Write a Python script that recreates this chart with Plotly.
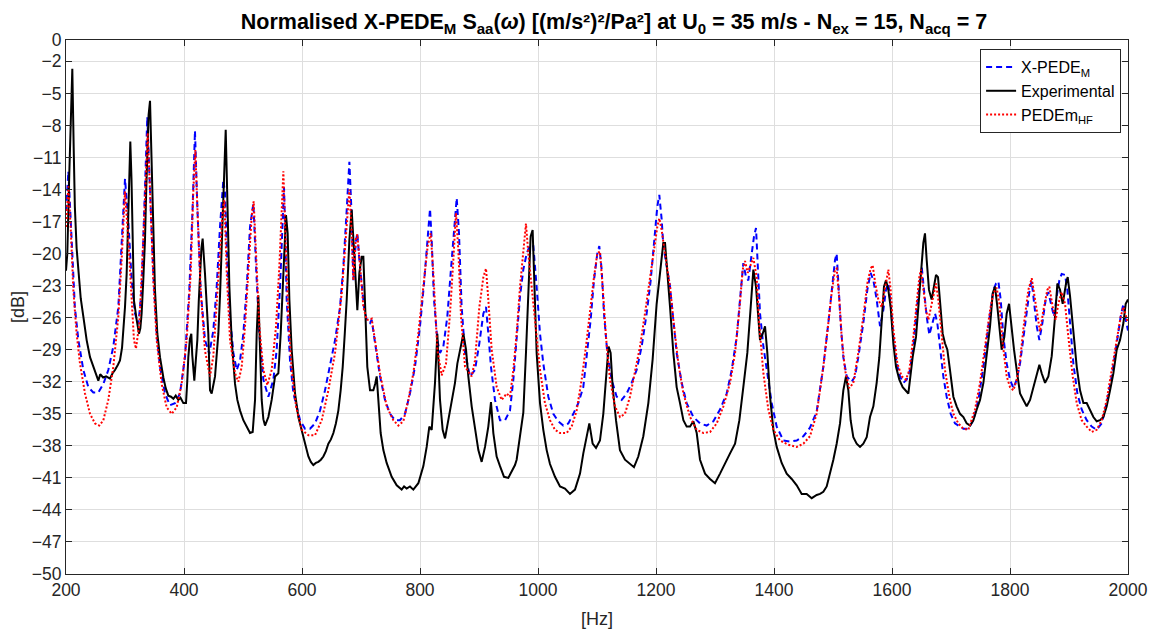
import plotly.graph_objects as go

# ---------------- data ----------------
freq_exp = [200, 202.2, 205.6, 208.4, 210.7, 213, 215, 218, 221, 225, 229.4, 235, 240.7, 246, 250, 254.8, 258, 263, 268,
            274.5, 279, 283, 288, 291.5, 295, 297, 300, 302.8, 305.6, 307.5, 309, 311, 313, 315.2, 319.8, 323.7, 326,
            328.2, 331, 333.9, 336, 337.8, 340, 342.4, 344.5, 346.9, 350.8, 354.8, 359.3, 365, 369, 373.4, 378, 382,
            386, 390.4, 394, 398.9, 403.4, 405.5, 407.3, 410, 412.4, 414, 417.5, 420, 422.6, 425, 427.1, 429.5, 431.6,
            433.5, 435.6, 438.5, 441.2, 444.1, 446.9, 452.6, 458.2, 461, 463.9, 467.8, 470.7, 473.5, 476.9, 480.8,
            486.5, 490.4, 495, 500.6, 506.3, 511.9, 516.4, 518.5, 520.4, 523.2, 526, 528.9, 531.7, 534.5, 537.3, 543,
            548.6, 554.3, 559.9, 563.9, 568.4, 572.9, 575.7, 578.6, 582.5, 588.2, 593.8, 602.3, 606.5, 610.8, 615,
            619.2, 623.5, 627.7, 632, 636.2, 640.5, 644.7, 649, 653.2, 657.4, 661.6, 665.5, 669, 672.5, 675.8, 680.3,
            684.2, 688.2, 691.6, 693.8, 697.2, 701.2, 704, 707.4, 710.7, 715.3, 720.9, 724, 726.6, 729.4, 733.3, 737.9,
            743.5, 752, 760.5, 768.9, 773, 777.4, 783, 788.7, 797.2, 805.7, 811.3, 815.8, 819.8, 825.4, 829.4, 833.9,
            838.4, 842.4, 848, 853.7, 859.3, 863.3, 867.8, 873.5, 878, 881.9, 887.6, 893.2, 898.9, 904.5, 910.2, 915.8,
            920.3, 924.3, 929.9, 935.6, 942.4, 949.7, 955.4, 961, 963.8, 969.5, 975.1, 979.6, 983.6, 987.5, 990.9,
            993.7, 997.7, 1003.4, 1009, 1014.7, 1020.3, 1028.8, 1037.3, 1045.7, 1054.2, 1062.7, 1071.2, 1076.8, 1082.5,
            1087, 1092.6, 1098.3, 1105, 1110.7, 1116.4, 1119.7, 1123.1, 1126.5, 1132.2, 1138.9, 1147.4, 1155.9, 1162.7,
            1170, 1178.5, 1187, 1194.3, 1201.1, 1206.8, 1212.4, 1215.3, 1219.2, 1223.8, 1229.4, 1235, 1240.7, 1246.4,
            1252, 1257.7, 1263.3, 1269, 1274.6, 1283.1, 1291.6, 1300, 1308.5, 1317, 1325.5, 1334, 1341.3, 1348, 1354.8,
            1360.5, 1365, 1369.5, 1373.5, 1376.3, 1380.8, 1384.8, 1388.7, 1393.3, 1398.9, 1404.6, 1413, 1421.5, 1430,
            1438.5, 1446.9, 1455.4, 1463.9, 1472.4, 1478, 1483.6, 1489.3, 1494.9, 1500.6, 1506.2, 1511.9, 1517.5, 1522,
            1526, 1529.9, 1534.5, 1540.1, 1545.8, 1551.4, 1557.1, 1562.7, 1568.4, 1574, 1578.5, 1582.5, 1586.4, 1589.8,
            1593.8, 1597.7, 1602.3, 1606.8, 1612.4, 1618.1, 1623.7, 1627.7, 1630.5, 1635, 1640.7, 1644.6, 1648.6,
            1653.1, 1655.9, 1658.8, 1662.7, 1667.2, 1671.2, 1674.6, 1678, 1681.4, 1685.9, 1689.8, 1693.8, 1698.3, 1704,
            1709.6, 1715.3, 1721, 1726.6, 1732.3, 1737.9, 1743.6, 1749.2, 1754.9, 1760.5, 1766.2, 1770.7, 1774.6,
            1778.6, 1783.1, 1785.9, 1790.4, 1794.4, 1798.4, 1802.9, 1806.8, 1811.4, 1817, 1822.7, 1828.3, 1834, 1839.6,
            1845.3, 1849.8, 1853.7, 1859.4, 1865, 1870.7, 1876.3, 1880.3, 1884.8, 1889.3, 1895, 1897.8, 1901.8, 1907.4,
            1913.1, 1918.7, 1924.4, 1930, 1935.7, 1941.3, 1947, 1952.6, 1958.3, 1963.9, 1969.6, 1975.2, 1980.9, 1986.5,
            1992.2, 1996.1, 2000]
db_exp = [-21.6, -20, -12.5, -6.2, -2.7, -10, -15.6, -19.5, -21.9, -24.2, -25.9, -28.1, -29.7, -30.5, -31, -31.9, -31.3,
          -31.6, -31.5, -31.7, -31.2, -30.9, -30.4, -30, -28.8, -27.5, -25, -21.9, -15.6, -11.5, -9.5, -13, -18.7,
          -24.4, -26.2, -27.5, -27, -25.6, -22.5, -18.7, -14, -9.4, -7, -5.7, -10, -15.6, -23.4, -27.5, -29.7, -31.6,
          -32.6, -33.3, -33.4, -33.6, -33.3, -33.7, -33.5, -34, -34, -32, -29.7, -28, -27.5, -29.5, -31.9, -30, -28.1,
          -24.5, -21.9, -19.5, -18.6, -20, -21.9, -24.8, -27.5, -32.8, -33.1, -31.5, -27.5, -24, -19.7, -13.4, -8.4,
          -15, -23.1, -28.1, -32.2, -33.7, -34.7, -35.6, -36.2, -36.8, -36.7, -35.5, -33.7, -27.5, -23.9, -29, -33.7,
          -35.5, -36.1, -35.3, -33.7, -31.5, -31.2, -27.5, -21.2, -16.4, -18.1, -24.3, -29, -33.1, -35.3, -37.2, -38.2,
          -39, -39.5, -39.8, -39.6, -39.5, -39.3, -39, -38.5, -37.8, -37.4, -36.8, -35.9, -34.7, -32.8, -30.6, -27.5,
          -24.3, -18.7, -15.9, -19.7, -23.7, -25.3, -21.8, -20.3, -20.3, -25.9, -30.6, -32.8, -32.8, -32.2, -31.5,
          -33.7, -36.8, -38.4, -39.6, -40.9, -41.7, -42.1, -41.8, -42, -41.8, -42.1, -41.5, -39.9, -38.1, -36.2, -36.5,
          -32.1, -27.5, -33.7, -36.5, -37.3, -35.6, -33.7, -32.1, -30.3, -29, -27.5, -29, -31.5, -34.3, -36.5, -38.4,
          -39.5, -38.1, -36.2, -33.9, -36.8, -39, -39.9, -40.9, -41, -40.4, -39.8, -39.3, -37.1, -34.9, -29.3, -23.1,
          -18.4, -17.8, -23.1, -29.3, -34, -36.5, -38.4, -39.7, -40.9, -41.8, -42, -42.5, -42.1, -40.6, -38.7, -37.2,
          -35.9, -37.8, -38.2, -37.5, -35, -30.9, -28.7, -29.3, -32.5, -35.6, -38.4, -39.3, -39.7, -40, -39, -37.1,
          -34, -29.9, -24.7, -21.5, -19, -19, -21.5, -25, -29.3, -32.5, -34, -35.6, -36.2, -36.2, -35.7, -36.8, -39.3,
          -40.6, -41.1, -41.5, -40.6, -39.6, -38.7, -37.8, -35.6, -32.5, -29.3, -25, -21.5, -23.1, -25.6, -28.1,
          -27.5, -26.8, -29.3, -33.4, -36.5, -38.1, -39.6, -40.6, -41.1, -41.7, -42.5, -42.5, -42.9, -42.6, -42.5,
          -42.3, -41.8, -40.6, -39.3, -37.8, -35.9, -32.8, -31.5, -32.8, -35.6, -37.2, -37.8, -38.1, -37.8, -37.2,
          -35.3, -34.3, -32.1, -29.7, -25.9, -23.1, -22.5, -23.4, -25, -28.4, -30.6, -31.8, -32.5, -32.8, -33.1,
          -31.8, -29.7, -27.8, -25.3, -22.2, -19, -18.1, -20.6, -23.4, -24.3, -22.8, -22, -22.2, -24.3, -27.5, -28.4,
          -29, -30.9, -33.4, -34.3, -35, -35.3, -35.9, -36.1, -35.6, -34.6, -33.7, -32.1, -29.6, -26.8, -23.7, -23.1,
          -25, -27.8, -29, -27.8, -25.6, -24.7, -27.2, -29, -30.9, -33.1, -33.7, -34.3, -33.7, -32.5, -31.5, -30.4,
          -31.2, -32.1, -31.5, -29.6, -25.9, -22.8, -23.4, -24.7, -22.8, -22.2, -24, -27.5, -30.6, -32.8, -34, -34,
          -34.6, -35.3, -35.7, -35.6, -35.3, -34.3, -32.8, -31.2, -29, -28.1, -26.5, -24.7, -24.3]

freq_xpede = [200, 204, 209.6, 215, 221, 229.4, 237.8, 246.3, 254.8, 263.3, 271.7, 280.2, 288.7, 294.3, 300, 305.6,
              311.3, 316.9, 322.6, 328.2, 333.9, 337.8, 342.4, 348, 353.7, 359.3, 367.8, 376.2, 384.7, 393.2, 401.7,
              409, 414.7, 418.6, 422.6, 428.2, 435.6, 442.9, 449.7, 455.4, 461, 466.7, 469.5, 473.5, 478, 483.7, 489.3,
              495, 500.6, 506.3, 511.9, 517.6, 522.1, 527.7, 534.5, 543, 551.5, 557.1, 562.8, 566.7, 569.5, 571.5, 574,
              579.7, 585.4, 591, 596.7, 605.1, 613.6, 622.1, 630.5, 639, 647.5, 656, 664.5, 670.1, 675.8, 680.3, 684.2,
              687, 691, 693.8, 697.2, 701.2, 705.1, 709.6, 715.3, 718.1, 723.7, 732.2, 740.7, 749.1, 757.6, 766.1,
              774.6, 783, 791.5, 800, 806.8, 812.4, 817, 819.8, 823.7, 829.4, 833.9, 839.6, 846.3, 852, 857.6, 862.2,
              866.1, 870.6, 876.3, 884.7, 893.2, 900.6, 907.4, 911.9, 915.8, 920.3, 927.1, 935.6, 944.1, 952.5, 958.2,
              963.8, 969.5, 975.1, 980.8, 986.4, 992.1, 997.7, 1003.4, 1009, 1017.5, 1025.9, 1034.4, 1042.9, 1051.4,
              1059.9, 1068.3, 1076.8, 1083.6, 1089.2, 1094.9, 1100.5, 1103.9, 1107.9, 1111.8, 1117.5, 1124.8, 1133.3,
              1141.8, 1150.3, 1158.7, 1167.2, 1175.7, 1184.2, 1191, 1196.6, 1202.2, 1205.6, 1209.6, 1212.5, 1218.1,
              1223.8, 1229.4, 1235, 1243.5, 1252, 1263.3, 1274.6, 1285.9, 1297.2, 1308.5, 1319.8, 1328.3, 1336.8,
              1342.4, 1348, 1352.6, 1356.5, 1362.2, 1366.1, 1369.5, 1372.9, 1376.3, 1382, 1387.6, 1396.1, 1404.6,
              1415.9, 1427.2, 1438.5, 1449.8, 1461, 1472.3, 1483.6, 1492.1, 1497.7, 1503.4, 1506.2, 1509, 1513, 1517.5,
              1523.2, 1531.6, 1537.3, 1542.9, 1551.4, 1558.2, 1563.8, 1568.4, 1574, 1579.7, 1585.3, 1589.8, 1593.8,
              1597.7, 1602.3, 1607.9, 1613.6, 1619.2, 1624.9, 1630.5, 1636.2, 1641.8, 1647.5, 1650.3, 1654.2, 1658.8,
              1663.3, 1668.4, 1672.9, 1676.8, 1681.4, 1687, 1692.7, 1699.4, 1706.8, 1714.1, 1720.9, 1729.4, 1737.9,
              1746.4, 1754.9, 1763.3, 1771.8, 1776.3, 1780.3, 1784.2, 1788.8, 1794.4, 1800, 1805.7, 1811.4, 1817,
              1822.7, 1828.3, 1834, 1836.8, 1840.7, 1845.3, 1849.8, 1854.9, 1860.5, 1865, 1869.5, 1874.6, 1879.2,
              1883.7, 1887.6, 1893.3, 1897.2, 1901.8, 1907.4, 1914.2, 1921.5, 1930, 1938.5, 1947, 1955.4, 1963.9,
              1972.4, 1980.9, 1987.6, 1992.2, 1996.1, 2000]
db_xpede = [-16, -12.3, -18.7, -25, -28.1, -30.9, -32.5, -33, -33, -32.2, -30.9, -28.7, -25, -19.4, -13, -16.9, -22.5,
            -25.6, -26.6, -23.4, -14.1, -7.2, -14.1, -21.9, -27.5, -30.6, -33.1, -34.2, -34, -33.1, -29.7, -23.4,
            -15.6, -8.5, -15.6, -23.4, -28.1, -29.4, -27.2, -23.1, -17.5, -13.1, -14.3, -21.2, -25.9, -29.3, -30.9,
            -30, -27.5, -23.1, -17.5, -15.3, -21.2, -27.5, -31.8, -33.4, -31.8, -29, -23.1, -17.5, -13.8, -18, -24.3,
            -30, -33.1, -34.3, -35.6, -36.4, -36.4, -35.9, -34.7, -32.8, -30.6, -28.1, -25, -21.2, -15.9, -11.4,
            -16.5, -22.5, -19, -18.1, -20.6, -23.1, -25, -26.2, -26.5, -26.2, -28.4, -31.5, -33.7, -35, -35.6, -35.6,
            -35, -33.1, -30.6, -26.8, -22.8, -18.7, -15.8, -18.7, -24.3, -28.1, -29.3, -28.7, -25.9, -21.8, -18.1,
            -14.8, -18.1, -25, -29.3, -31.5, -30.9, -28.4, -25.6, -25, -27.5, -30.6, -33.7, -35.6, -35.6, -34.7,
            -31.8, -27.8, -24, -21.5, -20, -19.2, -19.3, -23.1, -27.5, -30.3, -33.4, -35, -35.7, -36.1, -35.9, -35,
            -34, -32.5, -29.3, -26.2, -22.5, -20, -19.3, -21.5, -25.6, -29.3, -31.8, -33.4, -33.7, -33.1, -32.1,
            -30.9, -28.7, -25.6, -22.5, -19.3, -15.6, -14.5, -16.8, -19.3, -21.2, -23.1, -26.2, -29.3, -32.1, -34,
            -35.3, -35.9, -36.1, -35.7, -34.6, -33.1, -30.9, -27.8, -24.3, -20.9, -22.2, -22.5, -20, -18.4, -17.6,
            -21.5, -25.6, -28.7, -30.9, -34, -36.2, -37.5, -37.6, -37.5, -37.1, -36.3, -34.8, -30.6, -26.5, -23.4,
            -20.6, -20, -22.8, -26.5, -29.7, -31.5, -32, -31.5, -29.7, -26.5, -23.4, -21.8, -22.5, -24.3, -26.8,
            -25.3, -23.4, -22.8, -24.7, -27.8, -30.3, -31.5, -32.1, -31.8, -30.9, -28.7, -25.3, -22.2, -21.2, -23.4,
            -25.9, -27.6, -26.5, -25.6, -26.5, -29, -31.5, -33.4, -35, -35.9, -36.2, -36.4, -36.4, -35.6, -33.7,
            -30.6, -26.8, -23.4, -22.8, -22.6, -24.3, -27.8, -30.3, -31.8, -32.6, -31.8, -30.3, -27.8, -25.3, -23.1,
            -22.6, -24.3, -26.8, -28.1, -26.5, -24.3, -23.6, -24.7, -25.9, -24, -22.5, -21.9, -22, -23.4, -26.5,
            -30.3, -33.1, -34.6, -35.6, -36.2, -36.5, -35.9, -34, -31.5, -28.4, -25.9, -24.7, -26.2, -27.2]

freq_hf = [200, 204, 207.9, 212.4, 218, 223.7, 232.2, 240.7, 249.1, 256.5, 263.3, 271.7, 280.2, 288.7, 294.3, 300,
           305.6, 311.3, 315.2, 318.6, 324.3, 331, 335.6, 338.4, 342.4, 348, 353.7, 362.1, 370.6, 379.1, 387.6, 396,
           404.5, 411.3, 415.8, 419.2, 422.6, 428.2, 435.6, 444.1, 449.7, 455.4, 461, 465.6, 468.4, 472.4, 478, 486.5,
           492.1, 497.8, 503.4, 509.1, 514.7, 518.1, 522.1, 527.7, 534.5, 541.3, 548.6, 556, 561.6, 565.6, 568.4,
           571.8, 576.9, 582.5, 589.9, 599.5, 610.8, 622.1, 633.4, 644.7, 656, 667.3, 674.6, 680.3, 684.2, 687, 691,
           693.8, 698.4, 704, 709.6, 715.3, 718.1, 723.7, 732.2, 743.5, 754.8, 763.3, 771.8, 780.2, 788.7, 797.2,
           805.7, 813, 818.1, 822.6, 829.4, 836.7, 844.1, 850.9, 856.5, 861, 865, 869.5, 876.3, 887.6, 893.2, 900.6,
           907.4, 911.9, 915.8, 921.5, 930, 938.4, 946.9, 952.5, 958.2, 963.8, 969.5, 975.1, 979.6, 983.6, 989.2,
           994.9, 1003.4, 1011.8, 1020.3, 1028.8, 1037.3, 1048.6, 1057, 1065.5, 1074, 1081.3, 1088.1, 1094.9, 1100.5,
           1105, 1109.6, 1115.2, 1122, 1130.5, 1139, 1147.4, 1155.9, 1164.4, 1172.9, 1181.3, 1189.8, 1196.6, 1202.2,
           1205.6, 1209.6, 1215.2, 1220.9, 1223.8, 1229.4, 1237.9, 1246.4, 1257.7, 1269, 1280.3, 1291.6, 1302.9,
           1314.2, 1325.5, 1334, 1341.3, 1346.9, 1350.9, 1355.4, 1359.4, 1365, 1370.6, 1375.2, 1382, 1390.4, 1398.9,
           1410.2, 1424.3, 1438.5, 1449.8, 1461, 1472.3, 1483.6, 1492.1, 1497.7, 1503.4, 1506.2, 1510.7, 1514.7,
           1520.3, 1527.7, 1534.5, 1542.9, 1551.4, 1558.2, 1563.8, 1567.2, 1571.7, 1576.8, 1582.5, 1588.1, 1593.8,
           1597.7, 1602.3, 1609.1, 1616.4, 1623.7, 1629.4, 1636.2, 1641.8, 1646.3, 1649.1, 1653.1, 1657.6, 1661.6,
           1666.1, 1671.2, 1674.6, 1678.5, 1684.2, 1689.8, 1697.2, 1704, 1712.4, 1720.9, 1729.4, 1740.7, 1749.2,
           1757.7, 1766.2, 1771.8, 1777.5, 1782, 1787.6, 1794.4, 1800, 1805.7, 1811.4, 1817, 1823.8, 1831.1, 1836.8,
           1842.4, 1848.1, 1850.9, 1856.6, 1863.3, 1866.7, 1872.4, 1877.4, 1882, 1887.6, 1893.3, 1898.9, 1906.3,
           1913.1, 1921.5, 1930, 1938.5, 1947, 1955.4, 1963.9, 1972.4, 1980.9, 1987.6, 1992.2, 1996.1, 2000]
db_hf = [-17.5, -13.7, -17.5, -23.4, -27.5, -30.3, -33.1, -35, -35.9, -36.1, -35.6, -33.7, -30.6, -25.9, -20.6, -14.2,
         -18.7, -25, -28.1, -28.9, -26.6, -18.7, -12.5, -8.7, -14.1, -22.5, -28.1, -32.2, -34.4, -35, -34.4, -32.2,
         -28.1, -21.9, -14.1, -10.3, -15.6, -23.4, -29.1, -31.5, -29.6, -25, -19.7, -15.9, -15, -21.8, -28.1, -31.2,
         -32, -30.6, -26.8, -21.2, -16.5, -15.1, -19.7, -26.8, -30.9, -32.3, -30.9, -26.8, -21.2, -15.6, -12.3,
         -18.1, -25.9, -30.9, -34.3, -36.5, -37, -37, -35.6, -32.8, -29.3, -23.7, -18.1, -14, -18.1, -22.5, -18.7,
         -18.2, -21.2, -25, -26.2, -26.2, -26.1, -28.1, -31.2, -34.3, -35.6, -36.1, -35.7, -33.7, -31.2, -27.5,
         -23.1, -19.3, -18.1, -21.8, -29, -31.4, -30.3, -25.6, -20.6, -16.2, -19.7, -25.9, -30.6, -31.5, -30, -25,
         -22.2, -21.4, -24.3, -29, -32.5, -33.7, -33.1, -33.4, -30.9, -27.5, -23.1, -19.7, -17.2, -20, -23.1, -26.2,
         -30.9, -34, -35.6, -36.5, -36.8, -36.8, -36.2, -34.7, -31.8, -28.7, -25.3, -22.2, -20, -19.8, -23.1, -27.8,
         -31.8, -34.3, -35.3, -35, -33.4, -31.2, -28.7, -25.6, -22.2, -19.3, -17.5, -16.7, -17.8, -20, -22.2, -23.1,
         -26.2, -30.3, -33.1, -35.3, -36.5, -36.8, -36.7, -35.9, -34.3, -32.1, -29.3, -25.3, -21.5, -20.7, -21.8,
         -21.2, -20.4, -22.2, -26.8, -31.2, -34.6, -36.5, -37.5, -37.9, -38.1, -37.8, -37.1, -35, -30.6, -26.5,
         -23.7, -21.5, -21.4, -24.3, -27.8, -30.9, -32.6, -32.1, -29.3, -25.9, -22.8, -21.4, -21.1, -22.8, -24.3,
         -25, -23.1, -21.5, -23.4, -27.1, -30.3, -31.5, -31.8, -30.9, -27.8, -24.3, -22.2, -21.5, -23.4, -25.3,
         -26.2, -25, -23.4, -22.8, -24.3, -27.8, -30.9, -33.4, -35, -35.9, -36.4, -36.5, -34.6, -32.1, -28.7, -25.3,
         -23.7, -23.2, -24.7, -28.4, -31.5, -32.5, -32.8, -31.8, -30, -26.5, -23.4, -22.3, -24.3, -26.5, -27.3,
         -25.3, -23.4, -23.1, -25, -26.2, -24.7, -23.6, -24.7, -27.8, -31.5, -34, -35.6, -36.2, -36.7, -36.5, -35.6,
         -33.7, -30.9, -28.1, -25.9, -25, -25.9, -26.5]

x_ticks = [200, 400, 600, 800, 1000, 1200, 1400, 1600, 1800, 2000]
y_ticks = [-50, -47, -44, -41, -38, -35, -32, -29, -26, -23, -20, -17, -14, -11, -8, -5, -2, 0]

series_names = ["X-PEDE<sub>M</sub>", "Experimental", "PEDEm<sub>HF</sub>"]

# ---------------- figure ----------------
FONT = "Liberation Sans, Arial, sans-serif"
AX = "#262626"

fig = go.Figure()
fig.add_trace(go.Scatter(x=freq_xpede, y=db_xpede, mode="lines", name=series_names[0],
                         line=dict(color="#0000ff", width=2, dash="6px,4px")))
fig.add_trace(go.Scatter(x=freq_exp, y=db_exp, mode="lines", name=series_names[1],
                         line=dict(color="#000000", width=2)))
fig.add_trace(go.Scatter(x=freq_hf, y=db_hf, mode="lines", name=series_names[2],
                         line=dict(color="#ff0000", width=2, dash="2px,2px")))

title_txt = ("<b>Normalised X-PEDE<sub>M</sub> S<sub>aa</sub>(<i>ω</i>) "
             "[(m/s²)²/Pa²] at U<sub>0</sub> = 35 m/s - "
             "N<sub>ex</sub> = 15, N<sub>acq</sub> = 7</b>")

# the page body adds an 8 px offset, so the figure is 8 px smaller on each axis
fig.update_layout(
    width=1153, height=626,
    margin=dict(l=58, r=33, t=32, b=60, autoexpand=False),
    paper_bgcolor="white", plot_bgcolor="white",
    font=dict(family=FONT, color=AX, size=17),
    title=dict(text=title_txt, x=0.5256, xanchor="center", y=0.978, yanchor="middle", yref="container",
               font=dict(family="Liberation Sans Narrow, " + FONT, size=21.5, color="#000000")),
    showlegend=True,
    legend=dict(x=0.9935, y=0.983, xanchor="right", yanchor="top",
                bgcolor="white", bordercolor=AX, borderwidth=1,
                font=dict(family=FONT, size=16, color="#000000"),
                itemwidth=30, tracegroupgap=0),
    xaxis=dict(range=[200, 2000], tickvals=x_ticks, ticktext=[str(v) for v in x_ticks],
               showgrid=True, gridcolor="#dedede", gridwidth=1, zeroline=False, automargin=False,
               showline=True, linecolor=AX, linewidth=1, mirror="ticks",
               ticks="inside", ticklen=6, tickcolor=AX, tickfont=dict(size=17.5, color=AX),
               title=dict(text="[Hz]", font=dict(size=18, color=AX), standoff=13)),
    yaxis=dict(range=[-50, 0], tickvals=y_ticks,
               ticktext=[str(v).replace("-", "\u2212") for v in y_ticks],
               showgrid=True, gridcolor="#dedede", gridwidth=1, zeroline=False, automargin=False,
               showline=True, linecolor=AX, linewidth=1, mirror="ticks",
               ticks="inside", ticklen=6, tickcolor=AX, tickfont=dict(size=17.5, color=AX),
               title=dict(text="[dB]", font=dict(size=18, color=AX), standoff=2)),
)

fig.write_html("out.html")
